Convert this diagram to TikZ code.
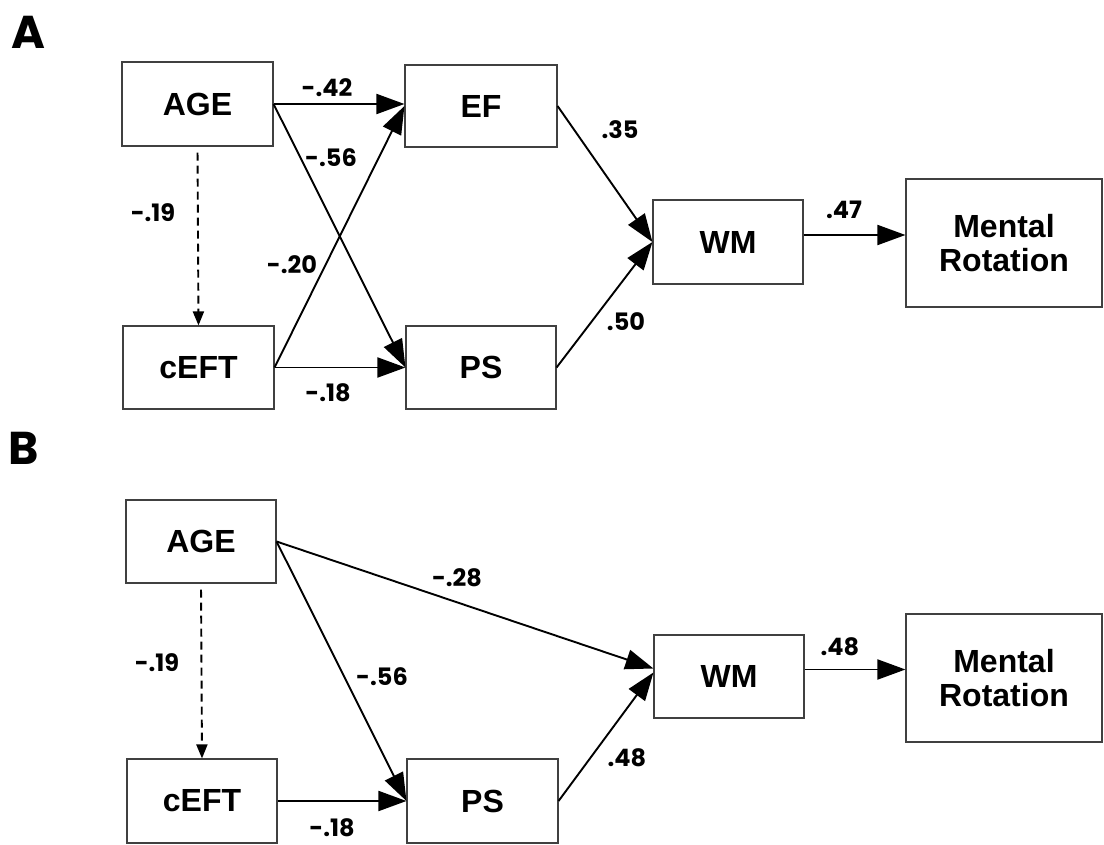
\documentclass[tikz,border=0pt]{standalone}
\usepackage{fontspec}
\setmainfont{Liberation Sans}
\newfontfamily\geofont{Poppins}
\usetikzlibrary{arrows.meta,calc}
\begin{document}
\begin{tikzpicture}[x=1pt,y=-1pt,
  box/.style={draw=black!75,line width=1.1pt,inner sep=0pt,align=center,
    font=\fontsize{32}{34}\selectfont\bfseries},
  lab/.style={inner sep=0pt,font=\geofont\fontsize{24}{26}\selectfont\bfseries},
  panel/.style={inner sep=0pt,font=\geofont\fontsize{46}{48}\selectfont\bfseries},
  arr/.style={line width=1.9pt,-{Triangle[length=28pt,width=20pt]}},
  darr/.style={line width=1.9pt,dash pattern=on 8pt off 5pt,
    -{Triangle[length=14pt,width=11pt]},shorten <=6pt}]
\useasboundingbox (0,0) rectangle (1104,845);

% ---------- Panel A ----------
\node[panel] (pA) at (28,32) {A};
\node[box,minimum width=151pt,minimum height=84pt] (ageA) at (197.5,104) {AGE};
\node[box,minimum width=151pt,minimum height=83pt] (ceftA) at (198.5,367.5) {cEFT};
\node[box,minimum width=152pt,minimum height=82pt] (efA) at (481,106) {EF};
\node[box,minimum width=150pt,minimum height=83pt] (psA) at (481,367.5) {PS};
\node[box,minimum width=150pt,minimum height=84pt] (wmA) at (728,242) {WM};
\node[box,minimum width=196pt,minimum height=128pt] (mrA) at (1004,243) {Mental\\Rotation};

\draw[arr] (ageA.east) -- (ageA.east -| efA.west);
\draw[arr] (ageA.east) -- (psA.west);
\draw[arr] (ceftA.east) -- (efA.west);
\draw[arr] (ceftA.east) -- (psA.west);
\draw[darr] (ageA.south) -- (ceftA.north);
\draw[arr] (efA.east) -- (wmA.west);
\draw[arr] (psA.east) -- (wmA.west);
\coordinate (wmAout) at ($(wmA.east)+(0,-7)$);
\draw[arr] (wmAout) -- (wmAout -| mrA.west);

\node[lab] (l42) at (327,88) {-.42};
\node[lab] (l56a) at (331,158) {-.56};
\node[lab] (l19a) at (153,213) {-.19};
\node[lab] (l20) at (292,265) {-.20};
\node[lab] (l18a) at (328,393) {-.18};
\node[lab] (l35) at (620,130) {.35};
\node[lab] (l50) at (626,322) {.50};
\node[lab] (l47) at (844,210) {.47};

% ---------- Panel B ----------
\node[panel] (pB) at (24,448) {B};
\node[box,minimum width=150pt,minimum height=83pt] (ageB) at (201,541.5) {AGE};
\node[box,minimum width=150pt,minimum height=84pt] (ceftB) at (202,801) {cEFT};
\node[box,minimum width=151pt,minimum height=84pt] (psB) at (482.5,801) {PS};
\node[box,minimum width=150pt,minimum height=83pt] (wmB) at (729,676.5) {WM};
\node[box,minimum width=196pt,minimum height=128pt] (mrB) at (1004,678) {Mental\\Rotation};

\draw[darr] (ageB.south) -- (ceftB.north);
\draw[arr] (ageB.east) -- ($(wmB.west)+(0,-8)$);
\draw[arr] (ageB.east) -- (psB.west);
\draw[arr] (ceftB.east) -- (psB.west);
\draw[arr] (psB.east) -- ($(wmB.west)+(0,-4)$);
\coordinate (wmBout) at ($(wmB.east)+(0,-7)$);
\draw[arr] (wmBout) -- (wmBout -| mrB.west);

\node[lab] (l19b) at (157,663) {-.19};
\node[lab] (l56b) at (382,677) {-.56};
\node[lab] (l18b) at (332,828) {-.18};
\node[lab] (l28) at (457,578) {-.28};
\node[lab] (l48a) at (627,758) {.48};
\node[lab] (l48b) at (840,647) {.48};
\end{tikzpicture}
\end{document}
